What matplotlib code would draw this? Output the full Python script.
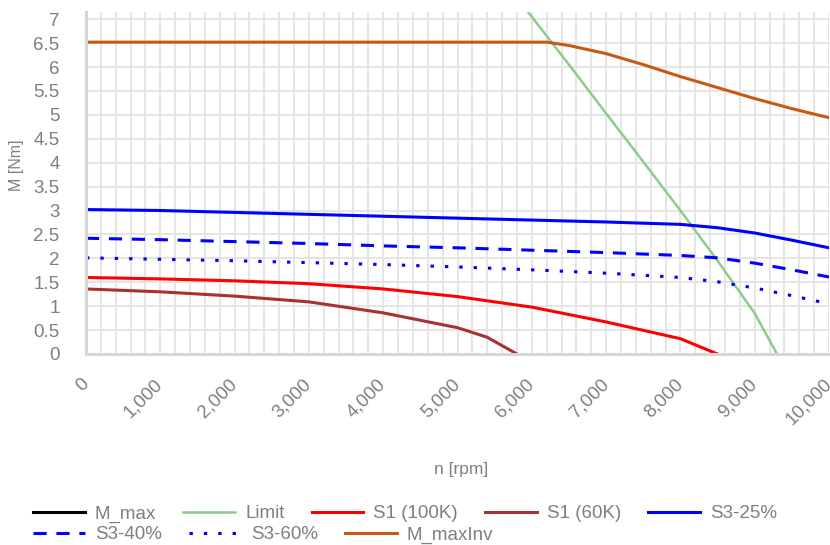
import numpy as np
import matplotlib
matplotlib.use("Agg")
import matplotlib.pyplot as plt
from matplotlib.ticker import MultipleLocator, FuncFormatter

plt.rcParams['font.family'] = ['Liberation Sans', 'DejaVu Sans']

# speed axis [rpm] and torque curves [Nm]
m_max_n = []
m_max = []

limit_n = [5900, 6500, 7000, 7500, 8000, 8500, 9000, 9300]
limit = [7.25, 6.05, 5.03, 4.02, 3.00, 1.95, 0.85, 0.0]

s1_100k_n = [0, 1000, 2000, 3000, 4000, 5000, 6000, 7000, 8000, 8500]
s1_100k = [1.60, 1.57, 1.53, 1.47, 1.36, 1.20, 0.98, 0.67, 0.32, 0.0]

s1_60k_n = [0, 1000, 2000, 3000, 4000, 5000, 5400, 5800]
s1_60k = [1.36, 1.30, 1.21, 1.09, 0.86, 0.55, 0.35, 0.0]

s3_n = [0, 1000, 2000, 3000, 4000, 5000, 6000, 7000, 8000, 8500, 9000, 9500, 10000]
s3_25 = [3.02, 3.00, 2.96, 2.92, 2.88, 2.84, 2.80, 2.76, 2.71, 2.64, 2.53, 2.38, 2.22]
s3_40 = [2.42, 2.39, 2.35, 2.31, 2.26, 2.22, 2.17, 2.12, 2.06, 2.01, 1.90, 1.76, 1.61]
s3_60 = [2.01, 1.98, 1.95, 1.91, 1.87, 1.82, 1.76, 1.69, 1.60, 1.51, 1.38, 1.22, 1.05]

m_inv_n = [0, 6200, 6500, 7000, 7500, 8000, 8500, 9000, 9500, 10000]
m_inv = [6.52, 6.52, 6.45, 6.28, 6.05, 5.80, 5.57, 5.34, 5.13, 4.94]

grey = '#7f7f7f'
grid_c = '#e3e3e3'

fig = plt.figure(figsize=(8.3, 5.45), dpi=100)
ax = fig.add_axes([86 / 830, 1 - 354 / 545, 743 / 830, 342 / 545])

lw = 2.2
l0, = ax.plot(m_max_n, m_max, color='black', lw=lw, label='M_max')
l1, = ax.plot(limit_n, limit, color='#8ccc8c', lw=1.8, label='Limit')
l2, = ax.plot(s1_100k_n, s1_100k, color='#ff0000', lw=lw, label='S1 (100K)')
l3, = ax.plot(s1_60k_n, s1_60k, color='#a83232', lw=lw, label='S1 (60K)')
l4, = ax.plot(s3_n, s3_25, color='#0000ff', lw=lw, label='S3-25%')
l5, = ax.plot(s3_n, s3_40, color='#0000ff', lw=lw, label='S3-40%',
              dashes=(4.3, 3.2), dash_capstyle='butt')
l6, = ax.plot(s3_n, s3_60, color='#0000ff', lw=lw, label='S3-60%',
              dashes=(1.1, 3.6), dash_capstyle='butt')
l7, = ax.plot(m_inv_n, m_inv, color='#c55a11', lw=lw, label='M_maxInv')

ax.set_xlim(0, 10000)
ax.set_ylim(0, 7.15)
ax.xaxis.set_major_locator(MultipleLocator(1000))
ax.xaxis.set_minor_locator(MultipleLocator(200))
ax.yaxis.set_major_locator(MultipleLocator(0.5))
ax.xaxis.set_major_formatter(FuncFormatter(lambda v, p: '{:,.0f}'.format(v)))
ax.yaxis.set_major_formatter(FuncFormatter(lambda v, p: '{:g}'.format(v)))

ax.grid(True, which='both', axis='x', color=grid_c, lw=1.3)
ax.grid(True, which='major', axis='y', color=grid_c, lw=1.3)
ax.set_axisbelow(True)

for s in ['top', 'right']:
    ax.spines[s].set_visible(False)
for s in ['left', 'bottom']:
    ax.spines[s].set_color('#d6d6d6')
    ax.spines[s].set_linewidth(2.2)

ax.tick_params(axis='both', which='both', length=0, colors=grey, labelsize=13.5)
ax.tick_params(axis='y', pad=19)
ax.tick_params(axis='x', pad=20)
for t in ax.get_xticklabels():
    t.set_rotation(45)
    t.set_rotation_mode('anchor')
    t.set_ha('right')
    t.set_va('center')

ax.set_xlabel('n [rpm]', color=grey, fontsize=12.5)
ax.xaxis.set_label_coords(0.505, -0.316)
ax.set_ylabel('M [Nm]', color=grey, fontsize=11.5)
ax.yaxis.set_label_coords(-0.083, 0.553)

leg_kw = dict(frameon=False, loc='center left', borderpad=0, borderaxespad=0,
              handlelength=2.77, handletextpad=0.53, columnspacing=1.44,
              fontsize=13.5, labelcolor=grey)
fig.legend(handles=[l0, l1, l2, l3, l4], ncol=5,
           bbox_to_anchor=(33 / 830, 1 - 514 / 545), **leg_kw)
fig.legend(handles=[l5, l6, l7], ncol=3,
           bbox_to_anchor=(33 / 830, 1 - 535 / 545), **leg_kw)

fig.savefig('out.png', dpi=100)
